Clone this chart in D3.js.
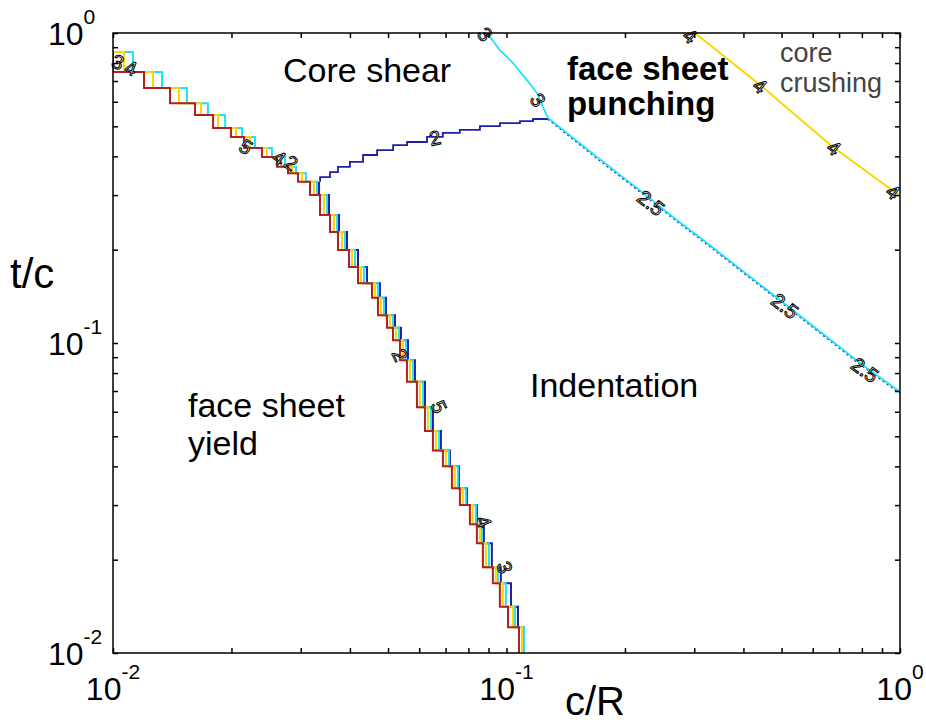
<!DOCTYPE html>
<html>
<head>
<meta charset="utf-8">
<script src="https://cdn.jsdelivr.net/npm/d3@7"></script>
<style>
  body { margin: 0; background: #fff; }
</style>
</head>
<body>
<script>
// t/c levels of the stepped face-sheet-yield contours (shared by all four copies)
const stepLevels = [0.868, 0.749, 0.665, 0.594, 0.544, 0.494, 0.462, 0.426, 0.398, 0.370,
  0.353, 0.331, 0.300, 0.259, 0.228, 0.1995, 0.176, 0.156, 0.140, 0.123, 0.112, 0.102,
  0.088, 0.075, 0.062, 0.052, 0.045, 0.040, 0.034, 0.030, 0.026, 0.0226, 0.0189, 0.0168,
  0.0141, 0.0121, 0.0100];

// c/R where each copy steps down to the matching level
const yieldRed = [0.01000, 0.01000, 0.01199, 0.01396, 0.01616, 0.01796, 0.01995, 0.02153,
  0.02391, 0.02611, 0.02784, 0.02952, 0.03167, 0.03357, 0.03560, 0.03731, 0.03979, 0.04194,
  0.04552, 0.04714, 0.04969, 0.05146, 0.05361, 0.05585, 0.05921, 0.06205, 0.06502, 0.06893,
  0.07266, 0.07613, 0.08072, 0.08409, 0.08709, 0.09233, 0.09619, 0.10088, 0.10758];
const yieldYellow = [0.01000, 0.01067, 0.01264, 0.01471, 0.01674, 0.01849, 0.02054, 0.02229,
  0.02462, 0.02673, 0.02851, 0.03023, 0.03242, 0.03438, 0.03644, 0.03819, 0.04049, 0.04268,
  0.04632, 0.04797, 0.05057, 0.05237, 0.05456, 0.05684, 0.06026, 0.06315, 0.06617, 0.07015,
  0.07394, 0.07748, 0.08214, 0.08558, 0.08863, 0.09396, 0.09789, 0.10388, 0.10949];
const yieldCyan = [0.01067, 0.01124, 0.01332, 0.01542, 0.01743, 0.01927, 0.02128, 0.02295,
  0.02535, 0.02736, 0.02918, 0.03094, 0.03299, 0.03498, 0.03710, 0.03887, 0.04121, 0.04344,
  0.04714, 0.04882, 0.05146, 0.05330, 0.05552, 0.05784, 0.06133, 0.06426, 0.06734, 0.07139,
  0.07525, 0.07885, 0.08360, 0.08659, 0.09020, 0.09507, 0.09962, 0.10510, 0.11078];
// blue copy only starts at level index 11 (the triple point)
const yieldBlue = [0.03339, 0.03339, 0.03540, 0.03753, 0.03933, 0.04194, 0.04420, 0.04769,
  0.04939, 0.05207, 0.05392, 0.05618, 0.05852, 0.06205, 0.06502, 0.06813, 0.07181, 0.07569,
  0.07931, 0.08409, 0.08760, 0.09179, 0.09675, 0.10266, 0.10695, 0.11078];

// core shear / indentation boundary
const shearCR = [0.0336, 0.0336, 0.0356, 0.0373, 0.0400, 0.0432, 0.0469, 0.0515, 0.0559,
  0.0628, 0.0689, 0.0761, 0.0856, 0.0962, 0.1082, 0.1168, 0.1275];
const shearTC = [0.331, 0.343, 0.356, 0.370, 0.384, 0.404, 0.419, 0.435, 0.445,
  0.462, 0.476, 0.487, 0.501, 0.512, 0.520, 0.528, 0.532];

// face sheet punching boundary
const punchUpCR = [0.0892, 0.0962, 0.1039, 0.1127, 0.1195, 0.1238, 0.1275];
const punchUpTC = [1.0, 0.881, 0.800, 0.705, 0.641, 0.577, 0.532];
const punchLowCR = [0.1275, 0.1698, 0.2223, 0.2713, 0.3158, 0.4869, 0.7911, 1.0];
const punchLowTC = [0.532, 0.398, 0.305, 0.249, 0.215, 0.140, 0.0862, 0.0695];

// core crushing boundary
const crushCR = [0.301, 0.441, 0.675, 1.0];
const crushTC = [1.0, 0.680, 0.429, 0.298];

// contour labels
const contourText = ["3", "4", "5", "4", "2", "2", "3", "3", "4", "4", "4", "4",
  "2.5", "2.5", "2.5", "2", "5", "4", "3"];
const contourCR = [0.01029, 0.01111, 0.02178, 0.02642, 0.02834, 0.0658, 0.1202, 0.0882,
  0.2927, 0.4408, 0.6797, 0.9598, 0.2329, 0.5102, 0.8147, 0.0536, 0.0673, 0.0876, 0.0990];
const contourTC = [0.806, 0.771, 0.4288, 0.3951, 0.3807, 0.4585, 0.608, 0.99,
  0.978, 0.6746, 0.4256, 0.307, 0.2828, 0.1316, 0.0818, 0.0915, 0.0622, 0.0265, 0.0189];

// region labels (text start, baseline)
const regionText = ["Core shear", "face sheet", "punching", "core", "crushing",
  "Indentation", "face sheet", "yield"];
const regionCR = [0.02704, 0.14245, 0.14245, 0.4955, 0.4955, 0.11473, 0.01551, 0.01551];
const regionTC = [0.6951, 0.7054, 0.5437, 0.806, 0.6452, 0.067, 0.0577, 0.0435];

const tickExp = [-2, -1, 0];

const width = 926, height = 725;
const plotLeft = 113, plotRight = 900, plotTop = 33, plotBottom = 653;

const x = d3.scaleLog().domain([0.01, 1]).range([plotLeft, plotRight]);
const y = d3.scaleLog().domain([0.01, 1]).range([plotBottom, plotTop]);

const svg = d3.select("body").append("svg")
    .attr("width", width)
    .attr("height", height)
    .style("font-family", "'Liberation Sans', Arial, sans-serif");

svg.append("clipPath").attr("id", "clip")
  .append("rect")
    .attr("x", plotLeft).attr("y", plotTop)
    .attr("width", plotRight - plotLeft).attr("height", plotBottom - plotTop);

const plot = svg.append("g").attr("clip-path", "url(#clip)");

const stepLine = d3.line().x(d => x(d[0])).y(d => y(d[1])).curve(d3.curveStepAfter);
const straight = d3.line().x(d => x(d[0])).y(d => y(d[1]));

const zipLevels = (xs, start) => xs.map((v, i) => [v, stepLevels[start + i]]);
const zip = (a, b) => a.map((v, i) => [v, b[i]]);

const navy = "#1f1fa6", cyan = "#1ee3ff", gold = "#ffd500", red = "#b0201e";

// yield staircases, drawn back to front
[[yieldBlue, 11, navy], [yieldCyan, 0, cyan], [yieldYellow, 0, gold], [yieldRed, 0, red]]
  .forEach(([xs, start, col]) => {
    plot.append("path")
        .attr("d", stepLine(zipLevels(xs, start)))
        .attr("fill", "none")
        .attr("stroke", col)
        .attr("stroke-width", 2);
  });

// core shear
plot.append("path")
    .attr("d", stepLine(zip(shearCR, shearTC)))
    .attr("fill", "none")
    .attr("stroke", navy)
    .attr("stroke-width", 1.8);

// punching: navy under cyan on the lower branch
plot.append("path")
    .attr("d", straight(zip(punchLowCR, punchLowTC)))
    .attr("transform", "translate(0,1)")
    .attr("fill", "none")
    .attr("stroke", navy)
    .attr("stroke-width", 2)
    .attr("stroke-dasharray", "2,3");
plot.append("path")
    .attr("d", straight(zip(punchUpCR, punchUpTC).concat(zip(punchLowCR, punchLowTC).slice(1))))
    .attr("fill", "none")
    .attr("stroke", cyan)
    .attr("stroke-width", 1.8);

// crushing
plot.append("path")
    .attr("d", straight(zip(crushCR, crushTC)))
    .attr("fill", "none")
    .attr("stroke", gold)
    .attr("stroke-width", 2);

// contour labels, hollow like clabel output
const contourAngle = [20, 20, 33, 35, 35, -12, 55, 50, 38, 38, 38, 38, 38, 38, 36, 65, 65, 68, 70];
svg.append("g")
  .selectAll("text")
  .data(contourText)
  .join("text")
    .attr("transform", (d, i) => `translate(${x(contourCR[i])},${y(contourTC[i])}) rotate(${contourAngle[i]})`)
    .attr("text-anchor", "middle")
    .attr("dy", "0.35em")
    .attr("font-size", 20)
    .attr("fill", "#fff")
    .attr("stroke", "#000")
    .attr("stroke-width", 1)
    .text(d => d);

// frame and ticks
const tickVals = [];
[0.01, 0.1].forEach(b => d3.range(1, 10).forEach(m => tickVals.push(+(m * b).toPrecision(3))));
tickVals.push(1);

const axisG = svg.append("g");
axisG.append("g").attr("transform", `translate(0,${plotBottom})`)
    .call(d3.axisBottom(x).tickValues(tickVals).tickSize(-5).tickSizeOuter(0).tickFormat(""));
axisG.append("g").attr("transform", `translate(0,${plotTop})`)
    .call(d3.axisTop(x).tickValues(tickVals).tickSize(-5).tickSizeOuter(0).tickFormat(""));
axisG.append("g").attr("transform", `translate(${plotLeft},0)`)
    .call(d3.axisLeft(y).tickValues(tickVals).tickSize(-5).tickSizeOuter(0).tickFormat(""));
axisG.append("g").attr("transform", `translate(${plotRight},0)`)
    .call(d3.axisRight(y).tickValues(tickVals).tickSize(-5).tickSizeOuter(0).tickFormat(""));
axisG.selectAll("line").attr("stroke", "#000").attr("stroke-width", 1.5);
axisG.selectAll(".domain").remove();
svg.append("rect")
    .attr("x", plotLeft).attr("y", plotTop)
    .attr("width", plotRight - plotLeft).attr("height", plotBottom - plotTop)
    .attr("fill", "none")
    .attr("stroke", "#000")
    .attr("stroke-width", 1.5);

// power-of-ten tick labels
function powerLabel(sel, e) {
  sel.append("tspan").attr("font-size", 32).text("10");
  sel.append("tspan").attr("font-size", 21).attr("dy", -21).text(e);
}
tickExp.forEach(e => {
  svg.append("text")
      .attr("x", 48)
      .attr("y", y(Math.pow(10, e)) + 12)
      .attr("fill", "#000")
      .call(powerLabel, e);
  svg.append("text")
      .attr("x", x(Math.pow(10, e)))
      .attr("y", 700)
      .attr("text-anchor", "middle")
      .attr("fill", "#000")
      .call(powerLabel, e);
});

// axis titles
svg.append("text").attr("x", 10).attr("y", 288).attr("font-size", 42).text("t/c");
svg.append("text").attr("x", 565).attr("y", 715).attr("font-size", 40).text("c/R");

// region labels
svg.append("g")
  .selectAll("text")
  .data(regionText)
  .join("text")
    .attr("x", (d, i) => x(regionCR[i]))
    .attr("y", (d, i) => y(regionTC[i]))
    .attr("font-size", (d, i) => (i === 3 || i === 4) ? 27 : (i === 1 || i === 2) ? 33 : 34)
    .attr("font-weight", (d, i) => (i === 1 || i === 2) ? "bold" : "normal")
    .attr("fill", (d, i) => (i === 3 || i === 4) ? "#444" : "#000")
    .text(d => d);
</script>
</body>
</html>
